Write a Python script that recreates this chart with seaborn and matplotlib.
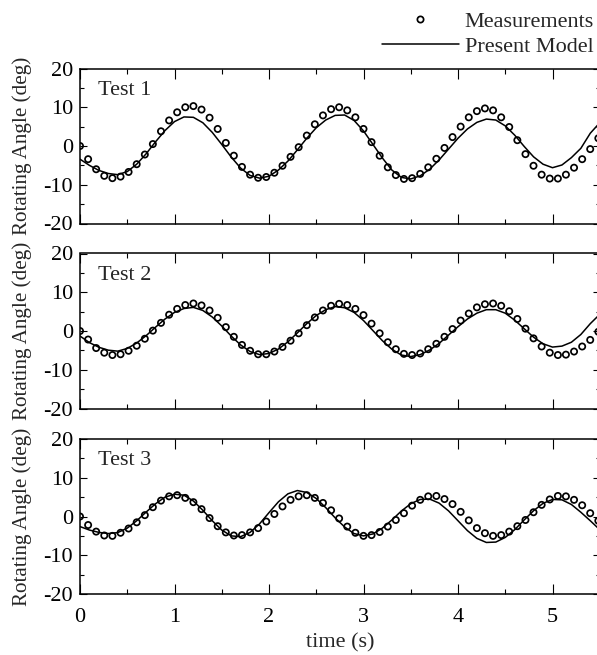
import matplotlib
matplotlib.use('Agg')
import matplotlib.pyplot as plt
from matplotlib.lines import Line2D
from matplotlib.ticker import MultipleLocator
import seaborn as sns

# ---------------- data ----------------
meas_time = [0.000, 0.086, 0.171, 0.257, 0.343, 0.429, 0.514, 0.600, 0.686, 0.771,
             0.857, 0.943, 1.028, 1.114, 1.200, 1.286, 1.371, 1.457, 1.543, 1.628,
             1.714, 1.800, 1.885, 1.971, 2.057, 2.143, 2.228, 2.314, 2.400, 2.485,
             2.571, 2.657, 2.742, 2.828, 2.914, 3.000, 3.085, 3.171, 3.257, 3.342,
             3.428, 3.514, 3.600, 3.685, 3.771, 3.857, 3.942, 4.028, 4.114, 4.200,
             4.285, 4.371, 4.457, 4.542, 4.628, 4.714, 4.799, 4.885, 4.971, 5.057,
             5.142, 5.228, 5.314, 5.399, 5.485]

meas_test1 = [0.0, -3.4, -6.0, -7.7, -8.3, -7.9, -6.7, -4.7, -2.2, 0.5,
              3.8, 6.6, 8.7, 10.0, 10.3, 9.4, 7.3, 4.4, 0.8, -2.5,
              -5.4, -7.4, -8.2, -8.0, -6.9, -5.1, -2.8, -0.3, 2.7, 5.6,
              7.9, 9.5, 10.0, 9.2, 7.4, 4.4, 1.0, -2.5, -5.5, -7.5,
              -8.5, -8.3, -7.2, -5.5, -3.3, -0.5, 2.3, 5.0, 7.4, 9.0,
              9.7, 9.2, 7.4, 4.9, 1.5, -2.1, -5.1, -7.4, -8.4, -8.4,
              -7.4, -5.6, -3.4, -0.8, 2.0]

meas_test2 = [0.0, -2.2, -4.4, -5.6, -6.2, -6.0, -5.1, -3.8, -2.0, 0.1,
              2.1, 4.2, 5.7, 6.7, 7.1, 6.6, 5.3, 3.4, 1.0, -1.5,
              -3.6, -5.1, -6.0, -6.0, -5.3, -4.1, -2.5, -0.6, 1.5, 3.5,
              5.3, 6.5, 7.0, 6.7, 5.7, 4.1, 1.9, -0.6, -2.9, -4.7,
              -5.9, -6.2, -5.8, -4.7, -3.3, -1.5, 0.5, 2.7, 4.5, 6.1,
              6.9, 7.1, 6.5, 5.1, 3.1, 0.6, -1.9, -4.0, -5.6, -6.2,
              -6.1, -5.3, -4.0, -2.3, -0.2]

meas_test3 = [0.0, -2.2, -3.9, -4.9, -5.0, -4.2, -3.1, -1.5, 0.35, 2.4,
              4.1, 5.2, 5.5, 4.8, 3.7, 1.9, -0.4, -2.5, -4.1, -4.9,
              -4.8, -4.1, -3.0, -1.3, 0.65, 2.6, 4.3, 5.2, 5.5, 4.8,
              3.5, 1.6, -0.5, -2.6, -4.2, -5.0, -4.8, -4.0, -2.6, -0.9,
              0.85, 2.8, 4.3, 5.2, 5.3, 4.5, 3.2, 1.2, -1.0, -3.0,
              -4.3, -5.0, -4.8, -3.9, -2.5, -0.9, 1.1, 3.0, 4.4, 5.3,
              5.2, 4.3, 2.9, 0.85, -1.1]

model_time = [0.0, 0.1, 0.2, 0.3, 0.4, 0.5, 0.6, 0.7, 0.8, 0.9,
              1.0, 1.1, 1.2, 1.3, 1.4, 1.5, 1.6, 1.7, 1.8, 1.9,
              2.0, 2.1, 2.2, 2.3, 2.4, 2.5, 2.6, 2.7, 2.8, 2.9,
              3.0, 3.1, 3.2, 3.3, 3.4, 3.5, 3.6, 3.7, 3.8, 3.9,
              4.0, 4.1, 4.2, 4.3, 4.4, 4.5, 4.6, 4.7, 4.8, 4.9,
              5.0, 5.1, 5.2, 5.3, 5.4, 5.5]

model_test1 = [-3.4, -5.0, -6.3, -7.1, -7.4, -6.6, -4.7, -2.0, 1.1, 4.0,
               6.3, 7.5, 7.4, 6.0, 3.5, 0.4, -2.85, -5.7, -7.6, -8.3,
               -7.8, -6.2, -3.9, -1.0, 2.0, 4.7, 6.7, 7.9, 8.0, 6.6,
               3.9, 0.4, -3.1, -6.2, -8.1, -8.5, -7.7, -6.0, -3.6, -0.8,
               2.0, 4.4, 6.1, 6.95, 6.7, 5.2, 2.8, -0.1, -2.8, -4.7,
               -5.6, -4.9, -3.0, -0.6, 3.3, 6.0]

model_test2 = [-1.3, -3.0, -4.2, -4.95, -5.2, -4.5, -3.1, -1.2, 1.0, 3.1,
               4.8, 5.8, 6.1, 5.3, 3.6, 1.3, -1.3, -3.6, -5.3, -6.1,
               -5.8, -4.65, -2.8, -0.5, 1.9, 4.0, 5.5, 6.3, 6.0, 4.8,
               2.7, 0.1, -2.5, -4.7, -6.2, -6.6, -6.1, -4.9, -3.2, -1.05,
               1.1, 3.1, 4.6, 5.5, 5.5, 4.6, 2.8, 0.6, -1.6, -3.3,
               -4.15, -3.9, -2.9, -0.9, 1.9, 4.3]

model_test3 = [-2.6, -3.5, -4.1, -4.4, -4.15, -3.0, -1.1, 1.15, 3.3, 5.0,
               5.75, 5.5, 4.0, 1.6, -1.1, -3.5, -5.0, -5.2, -4.1, -1.9,
               1.0, 3.8, 5.85, 6.7, 6.2, 4.65, 2.3, -0.35, -2.7, -4.4,
               -5.0, -4.5, -3.0, -0.9, 1.4, 3.3, 4.4, 4.5, 3.45, 1.45,
               -1.1, -3.65, -5.65, -6.7, -6.6, -5.4, -3.4, -0.9, 1.5, 3.4,
               4.4, 4.3, 3.1, 1.1, -1.1, -3.4]

panel_titles = ['Test 1', 'Test 2', 'Test 3']
series_labels = ['Measurements', 'Present Model']
x_label = 'time (s)'
y_label = 'Rotating Angle (deg)'

# ---------------- style ----------------
FS = 16
FS_Y = 15.2
sns.set_style('ticks')
plt.rcParams['font.family'] = ['Liberation Serif', 'DejaVu Serif']
plt.rcParams['axes.unicode_minus'] = False
plt.rcParams['font.size'] = FS

fig = plt.figure(figsize=(5.97, 6.55), dpi=100)
W, H = 597.0, 655.0
left = 80 / W
width = 519.75 / W
height = 155 / H
bottoms = [1 - 223.5 / H, 1 - 408.5 / H, 1 - 594 / H]

meas_all = [meas_test1, meas_test2, meas_test3]
model_all = [model_test1, model_test2, model_test3]

axes = []
for i in range(3):
    ax = fig.add_axes([left, bottoms[i], width, height])
    axes.append(ax)
    sns.lineplot(x=model_time, y=model_all[i], ax=ax, color='black',
                 linewidth=1.1, legend=False, zorder=2)
    sns.scatterplot(x=meas_time, y=meas_all[i], ax=ax, marker='o', s=20,
                    facecolor='none', edgecolor='black', linewidth=1.25,
                    legend=False, zorder=3)
    ax.set_xlim(0, 5.5)
    ax.set_ylim(-20, 20)
    ax.xaxis.set_major_locator(MultipleLocator(1))
    ax.xaxis.set_minor_locator(MultipleLocator(0.5))
    ax.yaxis.set_major_locator(MultipleLocator(10))
    ax.yaxis.set_minor_locator(MultipleLocator(5))
    ax.tick_params(which='both', direction='in', top=True, right=True,
                   width=0.8, colors='black', labelsize=FS)
    ax.tick_params(axis='x', which='major', length=7, pad=10)
    ax.tick_params(axis='x', which='minor', length=3.5)
    ax.tick_params(axis='y', which='major', length=5, pad=5)
    ax.tick_params(axis='y', which='minor', length=3)
    for sp in ax.spines.values():
        sp.set_visible(True)
        sp.set_linewidth(1.1)
        sp.set_color('black')
    ax.set_ylabel(y_label, fontsize=FS_Y)
    ax.yaxis.set_label_coords(-0.092, 0.5)
    ax.text(0.035, 0.83, panel_titles[i], transform=ax.transAxes,
            fontsize=FS, va='baseline', ha='left')
    if i < 2:
        ax.tick_params(axis='x', labelbottom=False)
        ax.set_xlabel('')
    else:
        ax.set_xlabel(x_label, fontsize=FS)
        ax.xaxis.set_label_coords(0.5, -0.255)

handles = [Line2D([], [], marker='o', ls='none', mfc='none', mec='black',
                  ms=4.5, mew=1.25),
           Line2D([], [], color='black', lw=1.1)]
fig.legend(handles, series_labels, loc='upper right',
           bbox_to_anchor=(1 - 3 / W, 1 - 11 / H), frameon=False, borderpad=0,
           borderaxespad=0, handlelength=3.45, handletextpad=0.27,
           labelspacing=0.22, fontsize=FS)

fig.savefig('out.png', dpi=100)
